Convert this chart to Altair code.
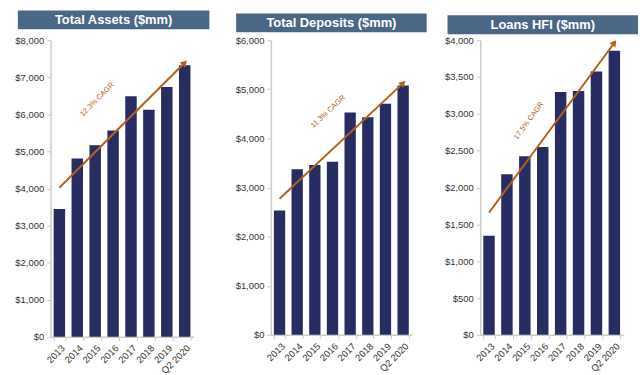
import math
import altair as alt
import pandas as pd

years = ["2013", "2014", "2015", "2016", "2017", "2018", "2019", "Q2 2020"]
assets = [3445, 4810, 5165, 5565, 6485, 6125, 6740, 7325]
deposits = [2530, 3370, 3460, 3525, 4525, 4430, 4705, 5075]
loans = [1345, 2180, 2425, 2550, 3295, 3310, 3575, 3855]

titles = ["Total Assets ($mm)", "Total Deposits ($mm)", "Loans HFI ($mm)"]
cagr_labels = ["12.3% CAGR", "11.3% CAGR", "17.5% CAGR"]
trend_start = [4020, 2770, 1660]
trend_end = [7390, 5125, 3965]
label_value = [6340, 4625, 2830]
label_year = ["2015", "2016", "2015"]
y_max = [8000, 6000, 4000]
y_step = [1000, 1000, 500]

# styling / layout (not data)
NAVY = "#272c61"
HEADER = "#4b6786"
ORANGE = "#b2611d"
TEXT = "#333333"
AXIS = "#cccccc"
FONT = "Liberation Sans"
widths = [144, 142, 144]
heights = [299, 297, 297]
header_top = [-30, -27, -25]
header_left = [-33, -35, -33]
header_right = [160, 157, 159]
bound_right = [168, 157, 159]
label_dx = [3, -6, 7]
pad_in, pad_out = 0.36, 0.17


def panel(i, values):
    W, H = widths[i], heights[i]
    df = pd.DataFrame({"year": years, "value": values})
    xenc = alt.X(
        "year:N",
        sort=years,
        scale=alt.Scale(domain=years, paddingInner=pad_in, paddingOuter=pad_out),
        axis=alt.Axis(
            title=None, labelAngle=315, tickBand="extent", labelFontSize=9.5,
            labelColor=TEXT, labelFont=FONT, domainColor=AXIS, tickColor=AXIS,
            tickSize=4, labelPadding=2, domainWidth=1.5, labelOverlap=False,
        ),
    )
    yenc = alt.Y(
        "value:Q",
        scale=alt.Scale(domain=[0, y_max[i]], nice=False),
        axis=alt.Axis(
            title=None, grid=False, format="$,.0f",
            values=list(range(0, y_max[i] + 1, y_step[i])),
            labelFontSize=9.5, labelColor=TEXT, labelFont=FONT,
            domainColor=AXIS, tickColor=AXIS, tickSize=4, labelPadding=3,
            domainWidth=1.5, labelOverlap=False,
        ),
    )
    bars = alt.Chart(df).mark_bar(color=NAVY).encode(x=xenc, y=yenc)

    trend = pd.DataFrame({"year": [years[0], years[-1]],
                          "value": [trend_start[i], trend_end[i]]})
    line = alt.Chart(trend).mark_line(color=ORANGE, strokeWidth=2).encode(
        x=xenc, y=yenc)

    n = len(years)
    step = W / (n - pad_in + 2 * pad_out)
    dx_px = (n - 1) * step
    dy_px = (trend_end[i] - trend_start[i]) / y_max[i] * H
    ang = math.degrees(math.atan2(dx_px, dy_px))
    tip = pd.DataFrame({"year": [years[-1]], "value": [trend_end[i]]})
    arrow = alt.Chart(tip).mark_point(
        shape="triangle-up", filled=True, angle=ang, size=55,
        color=ORANGE, opacity=1,
    ).encode(x=xenc, y=yenc)

    lab = pd.DataFrame({"year": [label_year[i]], "value": [label_value[i]],
                        "t": [cagr_labels[i]]})
    text_ang = 360 - math.degrees(math.atan2(dy_px, dx_px))
    label = alt.Chart(lab).mark_text(
        color=ORANGE, fontSize=7.5, font=FONT, angle=text_ang,
        dx=label_dx[i], align="center", baseline="middle",
    ).encode(x=xenc, y=yenc, text="t:N")

    hd = pd.DataFrame({"t": [titles[i]]})
    spacer = alt.Chart(hd).mark_rect(opacity=0).encode(
        x=alt.value(header_left[i]), x2=alt.value(bound_right[i]),
        y=alt.value(header_top[i]), y2=alt.value(header_top[i] + 19),
    )
    head_rect = alt.Chart(hd).mark_rect(color=HEADER).encode(
        x=alt.value(header_left[i]), x2=alt.value(header_right[i]),
        y=alt.value(header_top[i]), y2=alt.value(header_top[i] + 19),
    )
    head_text = alt.Chart(hd).mark_text(
        color="white", fontSize=13, fontWeight="bold", font=FONT,
        align="center", baseline="middle",
    ).encode(
        x=alt.value((header_left[i] + header_right[i]) / 2),
        y=alt.value(header_top[i] + 10), text="t:N",
    )
    return alt.layer(spacer, head_rect, head_text, bars, line, arrow, label).properties(
        width=W, height=H)


chart = alt.hconcat(
    panel(0, assets), panel(1, deposits), panel(2, loans), spacing=17
).properties(
    padding={"left": 14, "top": 9, "right": 2, "bottom": 2},
    background="white",
).configure_view(stroke=None).configure_concat(spacing=17).configure_axisY(
    labelOverlap=False)

chart.save("out.html", embed_options={"renderer": "svg", "actions": False})
